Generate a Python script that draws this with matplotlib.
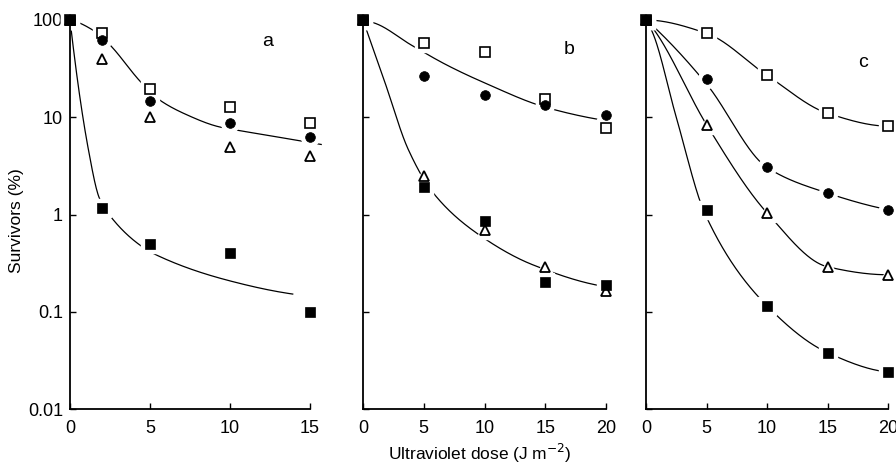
import numpy as np
import matplotlib
matplotlib.use('Agg')
import matplotlib.pyplot as plt

plt.rcParams['font.family'] = ['Liberation Sans', 'DejaVu Sans']

# ---------------- data (survivors, %) ----------------
dose_a = [0, 2, 5, 10, 15]
dose_bc = [0, 5, 10, 15, 20]

a_open_sq = [100, 73, 19.6, 12.7, 8.8]
a_circle = [100, 63, 14.6, 8.7, 6.3]
a_triangle = [100, 40, 10, 5.0, 4.0]
a_filled_sq = [100, 1.16, 0.50, 0.40, 0.10]

b_open_sq = [100, 57.5, 47, 15.4, 7.8]
b_circle = [100, 26.5, 17, 13.3, 10.6]
b_triangle = [100, 2.5, 0.70, 0.29, 0.165]
b_filled_sq = [100, 1.93, 0.85, 0.20, 0.19]

c_open_sq = [100, 73, 27, 11, 8.1]
c_circle = [100, 24.5, 3.05, 1.66, 1.12]
c_triangle = [100, 8.4, 1.04, 0.29, 0.24]
c_filled_sq = [100, 1.11, 0.115, 0.038, 0.024]

# fitted curves (dose, survivors %)
a_fit_upper_x = [0, 1.52, 2.46, 4.375, 5.42, 7.3, 9.33, 10.48, 14.56, 15.7]
a_fit_upper_y = [100, 77.1, 56.2, 23.5, 15.8, 10.6, 7.96, 7.35, 5.66, 5.25]
a_fit_lower_x = [0, 1.15, 1.83, 2.46, 4.375, 5.42, 9.79, 13.92]
a_fit_lower_y = [100, 4.65, 1.48, 0.99, 0.484, 0.382, 0.212, 0.152]

b_fit_upper_x = [0, 1, 4, 7, 10, 15, 20, 20.6]
b_fit_upper_y = [100, 92.5, 55, 33.9, 22.6, 12.7, 9.23, 9.02]
b_fit_lower_x = [0, 1.8, 3.73, 5.79, 9.36, 14, 20]
b_fit_lower_y = [100, 22.9, 4.65, 1.66, 0.643, 0.303, 0.181]

c_fit1_x = [0, 5, 10, 15, 20]
c_fit1_y = [100, 73, 27, 11, 8.1]
c_fit2_x = [0, 0.74, 5, 10, 15, 20]
c_fit2_y = [100, 83, 22, 3.05, 1.66, 1.12]
c_fit3_x = [0, 0.74, 5, 10, 15, 20]
c_fit3_y = [100, 77, 8.4, 1.04, 0.29, 0.24]
c_fit4_x = [0, 0.55, 2.5, 4.9, 10, 15, 20]
c_fit4_y = [100, 74, 10, 1.0, 0.115, 0.038, 0.024]

y_ticks = [0.01, 0.1, 1, 10, 100]
y_ticklabels = ['0.01', '0.1', '1', '10', '100']


def pchip(x, y, xs):
    x = np.asarray(x, float)
    y = np.asarray(y, float)
    h = np.diff(x)
    d = np.diff(y) / h
    n = len(x)
    m = np.zeros(n)
    for k in range(1, n - 1):
        if d[k - 1] * d[k] > 0:
            w1 = 2 * h[k] + h[k - 1]
            w2 = h[k] + 2 * h[k - 1]
            m[k] = (w1 + w2) / (w1 / d[k - 1] + w2 / d[k])

    def end(h0, h1, d0, d1):
        mm = ((2 * h0 + h1) * d0 - h0 * d1) / (h0 + h1)
        if np.sign(mm) != np.sign(d0):
            mm = 0.0
        elif np.sign(d0) != np.sign(d1) and abs(mm) > abs(3 * d0):
            mm = 3 * d0
        return mm

    m[0] = end(h[0], h[1], d[0], d[1])
    m[-1] = end(h[-1], h[-2], d[-1], d[-2])
    idx = np.clip(np.searchsorted(x, xs) - 1, 0, n - 2)
    t = (xs - x[idx]) / h[idx]
    h00 = 2 * t**3 - 3 * t**2 + 1
    h10 = t**3 - 2 * t**2 + t
    h01 = -2 * t**3 + 3 * t**2
    h11 = t**3 - t**2
    return h00 * y[idx] + h10 * h[idx] * m[idx] + h01 * y[idx + 1] + h11 * h[idx] * m[idx + 1]


def draw_curve(ax, xk, yk):
    xs = np.linspace(xk[0], xk[-1], 400)
    ly = pchip(xk, np.log10(yk), xs)
    ax.plot(xs, 10 ** ly, color='black', lw=0.9, zorder=2, clip_on=False)


styles = [
    dict(marker='s', mfc='white', mec='black', mew=1.2, ms=7.0),
    dict(marker='o', mfc='black', mec='black', mew=0.5, ms=7.0),
    dict(marker='^', mfc='white', mec='black', mew=1.3, ms=7.0),
    dict(marker='s', mfc='black', mec='black', mew=0.5, ms=7.5),
]


def draw_points(ax, x, series):
    for s, st in zip(series, styles):
        ax.plot(x, s, ls='none', marker=st['marker'], mfc='white', mec='white',
                ms=st['ms'] + 6, zorder=2.2, clip_on=False)
    for s, st in zip(series, styles):
        ax.plot(x, s, ls='none', zorder=3, clip_on=False, **st)


W, H = 896, 471
fig = plt.figure(figsize=(W / 100, H / 100), dpi=100)
top_px, bot_px = 20, 409
panels = [
    (70, 310, 15, [0, 5, 10, 15], 'a', (0.825, 0.945)),
    (363, 606, 20, [0, 5, 10, 15, 20], 'b', (0.85, 0.925)),
    (646, 888, 20, [0, 5, 10, 15, 20], 'c', (0.897, 0.89)),
]
axes = []
for (l, r, xmax, xt, lab, lpos) in panels:
    ax = fig.add_axes([l / W, 1 - bot_px / H, (r - l) / W, (bot_px - top_px) / H])
    ax.set_yscale('log')
    ax.set_ylim(0.01, 100)
    ax.set_xlim(0, xmax)
    ax.set_xticks(xt)
    ax.set_xticklabels([str(v) for v in xt])
    ax.set_yticks(y_ticks)
    ax.yaxis.set_minor_locator(matplotlib.ticker.NullLocator())
    for sp in ['top', 'right']:
        ax.spines[sp].set_visible(False)
    for sp in ['left', 'bottom']:
        ax.spines[sp].set_linewidth(1.3)
    ax.tick_params(axis='both', direction='in', length=4, width=1, labelsize=13)
    ax.tick_params(axis='x', pad=8)
    ax.tick_params(axis='y', pad=5)
    ax.text(lpos[0], lpos[1], lab, transform=ax.transAxes, fontsize=14,
            ha='center', va='center')
    axes.append(ax)

axes[0].set_yticklabels(y_ticklabels)
axes[1].set_yticklabels([])
axes[2].set_yticklabels([])

# panel a
draw_curve(axes[0], a_fit_upper_x, a_fit_upper_y)
draw_curve(axes[0], a_fit_lower_x, a_fit_lower_y)
draw_points(axes[0], dose_a, [a_open_sq, a_circle, a_triangle, a_filled_sq])

# panel b
draw_curve(axes[1], b_fit_upper_x, b_fit_upper_y)
draw_curve(axes[1], b_fit_lower_x, b_fit_lower_y)
draw_points(axes[1], dose_bc, [b_open_sq, b_circle, b_triangle, b_filled_sq])

# panel c
draw_curve(axes[2], c_fit1_x, c_fit1_y)
draw_curve(axes[2], c_fit2_x, c_fit2_y)
draw_curve(axes[2], c_fit3_x, c_fit3_y)
draw_curve(axes[2], c_fit4_x, c_fit4_y)
draw_points(axes[2], dose_bc, [c_open_sq, c_circle, c_triangle, c_filled_sq])

fig.text(17 / W, 1 - 221 / H, 'Survivors (%)', rotation=90, ha='center',
         va='center', fontsize=12.5)
fig.text(480 / W, 1 - 453 / H, 'Ultraviolet dose (J m$^{-2}$)', ha='center',
         va='center', fontsize=12.5)

fig.savefig('out.png', dpi=100)
